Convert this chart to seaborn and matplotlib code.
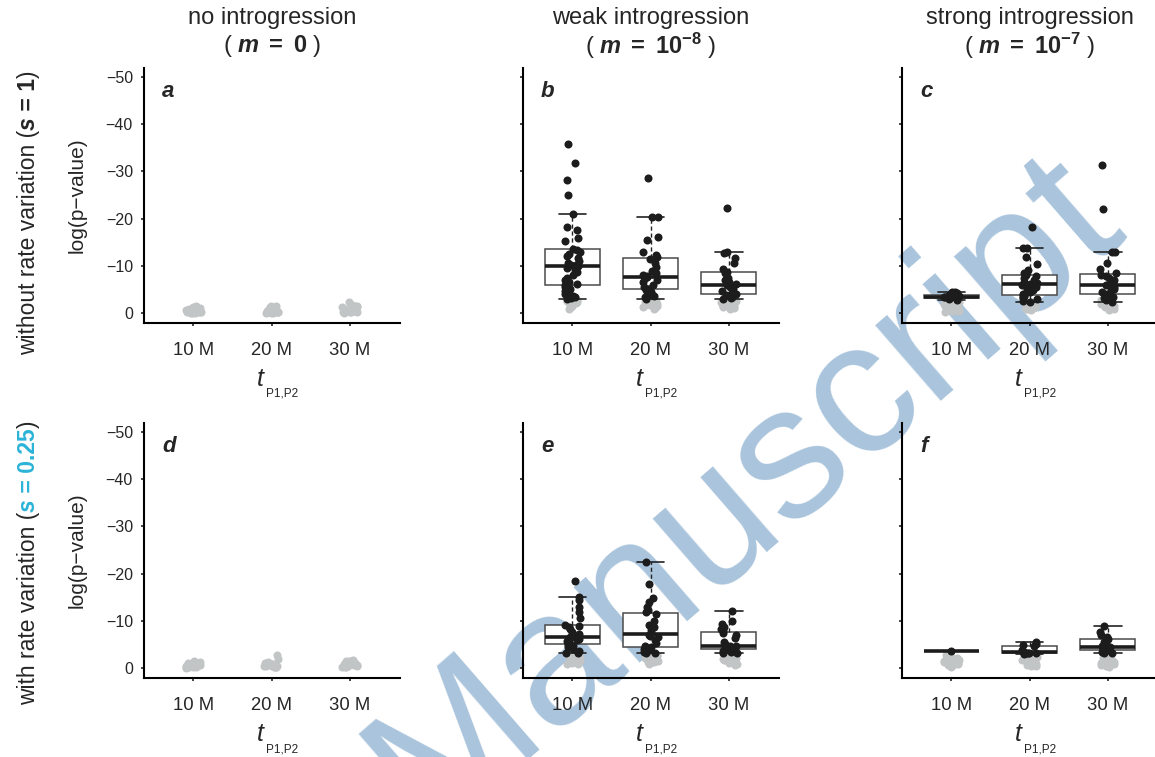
import numpy as np
import pandas as pd
import matplotlib
matplotlib.use('Agg')
import matplotlib.pyplot as plt
import seaborn as sns

np.random.seed(7)  # only for the horizontal jitter of the strips

TIMES = ['10 M', '20 M', '30 M']
COL_TITLES = ['no introgression', 'weak introgression', 'strong introgression']
COL_M = [r'( $\mathbfit{m}$ $\mathbf{=}$ $\mathbf{0}$ )',
         r'( $\mathbfit{m}$ $\mathbf{=}$ $\mathbf{10^{-8}}$ )',
         r'( $\mathbfit{m}$ $\mathbf{=}$ $\mathbf{10^{-7}}$ )']
LETTERS = ['a', 'b', 'c', 'd', 'e', 'f']
YTICKS = [0, -10, -20, -30, -40, -50]

# log(p-value) of significant runs (black points), one list per divergence time
SIG_B = [[-35.7, -31.8, -28.2, -25.0, -21.0, -18.2, -17.5, -16.0, -15.2, -13.6, -13.4, -13.0, -12.5,
          -12.0, -11.6, -11.0, -10.5, -10.2, -10.1, -10.0, -9.6, -9.2, -8.6, -8.0, -7.5, -7.0, -6.5,
          -6.2, -6.0, -5.6, -5.0, -4.6, -4.2, -4.0, -3.6, -3.4, -3.2, -3.0],
         [-28.7, -20.4, -20.3, -16.2, -15.5, -13.0, -12.4, -11.8, -11.4, -10.5, -9.8, -9.0, -8.5, -8.0,
          -7.8, -7.6, -7.4, -7.0, -6.5, -6.0, -5.6, -5.2, -5.0, -4.8, -4.5, -4.2, -3.9, -3.6, -3.3, -3.0],
         [-22.3, -12.9, -12.7, -11.6, -10.6, -9.4, -8.8, -8.4, -7.5, -7.0, -6.5, -6.2, -6.0, -5.8, -5.5,
          -5.0, -4.6, -4.3, -4.1, -4.0, -3.8, -3.5, -3.3, -3.1, -3.0]]
SIG_C = [[-4.5, -4.4, -4.2, -3.9, -3.8, -3.7, -3.5, -3.4, -3.3, -3.2, -3.1, -3.0, -2.9, -2.8],
         [-18.3, -13.8, -13.7, -11.8, -10.4, -9.2, -8.4, -8.0, -7.8, -7.4, -7.0, -6.6, -6.3, -6.2, -6.0,
          -5.6, -5.2, -4.8, -4.4, -4.0, -3.8, -3.7, -3.6, -3.4, -3.1, -2.9, -2.6, -2.4],
         [-31.4, -22.0, -13.0, -12.9, -10.6, -9.4, -8.4, -8.1, -7.9, -7.4, -7.0, -6.6, -6.2, -5.9, -5.8,
          -5.6, -5.2, -4.8, -4.4, -4.1, -4.0, -3.9, -3.5, -3.2, -3.0, -2.7, -2.4]]
SIG_E = [[-18.4, -15.0, -14.4, -13.0, -11.8, -10.6, -9.2, -8.9, -8.6, -8.2, -7.6, -7.2, -6.9, -6.5,
          -6.4, -6.2, -6.0, -5.8, -5.4, -5.1, -4.9, -4.7, -4.4, -4.0, -3.6, -3.3, -3.1],
         [-22.4, -17.9, -14.8, -14.0, -13.0, -12.2, -11.8, -11.5, -10.0, -9.2, -8.6, -8.0, -7.4, -7.1,
          -6.9, -6.5, -6.0, -5.4, -4.7, -4.4, -4.2, -4.0, -3.8, -3.5, -3.3, -3.1],
         [-12.0, -10.0, -9.4, -8.8, -8.2, -7.8, -7.5, -7.0, -6.4, -5.6, -5.0, -4.7, -4.6, -4.5, -4.4,
          -4.3, -4.2, -4.1, -4.0, -3.9, -3.6, -3.4, -3.2, -3.1]]
SIG_F = [[-3.7],
         [-5.5, -5.1, -4.9, -4.6, -3.9, -3.5, -3.4, -3.3, -3.2, -3.1, -3.1, -3.0],
         [-9.0, -7.6, -7.0, -6.6, -6.2, -5.6, -5.0, -4.6, -4.4, -4.2, -4.0, -3.9, -3.8, -3.6, -3.4,
          -3.2, -3.1]]

# log(p-value) of non-significant runs (grey points)
GREY_A = [[-0.2, -0.4, -0.1, -0.6, -0.3, -0.9, -1.2, -0.5, -0.2, -0.8, -1.5, -0.3, -0.1, -0.7, -0.4,
           -1.0, -0.2, -0.5, -0.3, -0.6, -0.1, -0.4, -0.8, -0.2],
          [-0.3, -0.1, -0.5, -0.8, -1.1, -0.2, -0.4, -1.4, -0.6, -0.3, -0.9, -0.2, -1.6, -0.5, -0.1,
           -0.7, -0.3, -0.4, -0.2, -0.6, -0.1, -0.5, -1.2, -0.3],
          [-0.2, -0.5, -1.0, -2.4, -1.8, -0.3, -0.8, -1.3, -0.1, -0.6, -1.1, -0.4, -1.6, -0.9, -0.2,
           -0.7, -0.3, -0.5, -1.2, -0.2, -0.8, -0.4, -1.5, -0.6]]
GREY_B = [[-0.9, -1.5, -2.2, -2.8, -2.5, -1.8, -2.0, -2.9, -2.6, -1.2, -2.3, -2.7, -2.4, -2.1, -2.8],
          [-1.0, -1.5, -2.4, -2.8, -2.0, -1.2, -2.6, -2.9, -1.8, -2.2, -0.8, -2.5, -2.7, -1.6, -2.3],
          [-1.2, -1.8, -2.6, -2.2, -1.0, -2.9, -2.4, -1.5, -2.7, -2.0, -0.9, -2.8, -1.7, -2.5, -1.3]]
GREY_C = [[-0.4, -0.8, -1.2, -1.6, -2.0, -2.4, -1.0, -0.6, -1.4, -1.8, -2.2, -0.9, -0.5, -1.5, -1.1,
           -0.7, -1.9, -0.3],
          [-1.0, -1.6, -2.2, -0.8, -1.9, -2.6, -1.3, -0.6, -2.0, -1.5, -2.4, -1.1, -1.7, -0.9],
          [-0.9, -1.5, -2.1, -2.6, -1.2, -1.8, -0.7, -2.3, -1.4, -2.8, -1.0, -1.6, -2.0]]
GREY_D = [[-0.3, -0.5, -0.2, -0.8, -1.2, -0.4, -0.6, -1.5, -0.1, -0.9, -0.3, -0.7, -0.5, -0.2, -1.0,
           -0.4, -0.6, -0.3],
          [-0.2, -0.6, -1.0, -2.7, -1.9, -0.4, -0.8, -1.3, -0.3, -0.5, -0.9, -0.2, -0.6, -1.1, -0.4,
           -0.7, -0.3, -0.5],
          [-0.3, -0.7, -1.1, -1.8, -0.5, -1.4, -0.2, -0.9, -1.6, -0.4, -0.6, -1.2, -0.8, -0.3, -1.0,
           -0.5, -1.5, -0.7]]
GREY_E = [[-0.8, -1.4, -2.0, -2.6, -1.1, -2.3, -1.7, -2.9, -0.9, -2.1, -1.5, -2.4, -1.2, -2.7],
          [-0.8, -1.3, -2.2, -2.7, -1.6, -2.0, -1.0, -2.5, -2.9, -1.8, -1.2, -2.3, -1.5, -2.1],
          [-0.7, -1.2, -1.8, -2.4, -2.8, -1.5, -2.1, -0.9, -2.6, -1.7, -1.0, -2.2, -1.4, -2.0]]
GREY_F = [[-0.3, -0.7, -1.2, -1.8, -2.4, -0.5, -1.0, -1.5, -2.1, -2.8, -0.9, -1.6, -0.4, -1.3, -0.6,
           -1.1, -2.0, -0.8],
          [-0.4, -0.9, -1.5, -2.0, -2.6, -1.1, -0.6, -1.8, -2.3, -2.9, -1.3, -0.8, -1.6, -0.5, -2.2],
          [-0.3, -0.8, -1.4, -2.0, -2.7, -1.1, -0.5, -1.7, -2.4, -0.9, -2.9, -1.5, -1.2, -0.6, -2.2]]

SIG = [None, SIG_B, SIG_C, None, SIG_E, SIG_F]
GREY = [GREY_A, GREY_B, GREY_C, GREY_D, GREY_E, GREY_F]

BLACK = '#1c1c1c'
GREY_COL = '#c2c5c5'
CYAN = '#2bb3d8'
WATERMARK = '#a9c4dc'
FONT = 'Liberation Sans'

W, H = 1155, 757

sns.set_style('ticks')
plt.rcParams.update({
    'font.family': [FONT, 'DejaVu Sans'],
    'mathtext.fontset': 'custom',
    'mathtext.rm': FONT,
    'mathtext.it': FONT + ':italic',
    'mathtext.bf': FONT + ':bold',
    'mathtext.bfit': FONT + ':bold:italic',
    'axes.linewidth': 1.5,
    'axes.edgecolor': 'black',
})


def to_frame(groups):
    rows = [(t, v) for t, vals in zip(TIMES, groups) for v in vals]
    return pd.DataFrame(rows, columns=['time', 'logp'])


fig = plt.figure(figsize=(W / 100, H / 100), dpi=100)
fig.patch.set_facecolor('white')

col_x = [144, 523, 902]
row_y = [68, 423]
ax_w, ax_h = 256, 255

axes = []
for r in range(2):
    for c in range(3):
        ax = fig.add_axes([col_x[c] / W, 1 - (row_y[r] + ax_h) / H, ax_w / W, ax_h / H])
        ax.set_facecolor('none')
        axes.append(ax)

for i, ax in enumerate(axes):
    grey = to_frame(GREY[i])
    sns.stripplot(data=grey, x='time', y='logp', order=TIMES, color=GREY_COL,
                  size=5.8, jitter=0.1, linewidth=0, zorder=1, ax=ax)
    if SIG[i] is not None:
        sig = to_frame(SIG[i])
        sns.boxplot(data=sig, x='time', y='logp', order=TIMES, width=0.7,
                    color='white', saturation=1, linecolor='#4a4a4a', linewidth=1.1,
                    showfliers=False,
                    whiskerprops=dict(color='#222222', linestyle=(0, (3, 2)), linewidth=1.0),
                    capprops=dict(color='#222222', linewidth=1.2),
                    medianprops=dict(color=BLACK, linewidth=2.6),
                    ax=ax)
        sns.stripplot(data=sig, x='time', y='logp', order=TIMES, color=BLACK,
                      size=5.8, jitter=0.1, linewidth=0, zorder=4, ax=ax)

    ax.set_xlim(-0.63, 2.64)
    ax.set_ylim(2.1, -51.9)
    ax.set_yticks(YTICKS)
    ax.set_xlabel('')
    ax.set_ylabel('')
    sns.despine(ax=ax)
    ax.tick_params(axis='x', length=2.5, width=1.2, pad=11, labelsize=13.3)
    ax.tick_params(axis='y', length=2.5, width=1.2, pad=5.5, labelsize=11.5)
    if i % 3 != 0:
        ax.tick_params(axis='y', labelleft=False)
    else:
        ax.set_ylabel('log(p\u2212value)', fontsize=15)
        ax.yaxis.set_label_coords(-0.223, 0.5)

    ax.text(0.07, 0.886, LETTERS[i], transform=ax.transAxes, fontsize=16,
            fontweight='bold', style='italic', ha='left', va='baseline')

    # x axis label: t with subscript P1,P2
    ax.annotate('t', xy=(0.5, 0), xycoords='axes fraction', xytext=(-8, -56),
                textcoords='offset pixels', ha='right', va='center',
                fontsize=18, style='italic')
    ax.annotate('P1,P2', xy=(0.5, 0), xycoords='axes fraction', xytext=(-6, -71),
                textcoords='offset pixels', ha='left', va='center', fontsize=8.5)

# column titles
for c in range(3):
    cx = (col_x[c] + ax_w / 2) / W
    fig.text(cx, 1 - 18 / H, COL_TITLES[c], ha='center', va='center', fontsize=17)
    fig.text(cx, 1 - 46 / H, COL_M[c], ha='center', va='center', fontsize=17)


# row labels, pieces chained upward
def row_label(y_start, parts):
    base_x = 35 / W
    prev = None
    for txt, kw in parts:
        if prev is None:
            prev = fig.text(base_x, 1 - y_start / H, txt, rotation=90,
                            rotation_mode='anchor', ha='left', va='baseline',
                            fontsize=16.5, **kw)
        else:
            prev = axes[0].annotate(txt, xy=(base_x, 1.0),
                                    xycoords=('figure fraction', prev),
                                    rotation=90, rotation_mode='anchor',
                                    ha='left', va='baseline', fontsize=16.5,
                                    annotation_clip=False, **kw)


bold_it = dict(fontweight='bold', style='italic')
row_label(355, [('without rate variation (', {}), ('s', bold_it),
                (' = 1', dict(fontweight='bold')), (')', {})])
row_label(705, [('with rate variation (', {}), ('s', dict(color=CYAN, **bold_it)),
                (' = 0.25', dict(fontweight='bold', color=CYAN)), (')', {})])

# watermark behind everything
fig.text(745 / W, 1 - 492 / H, 'Manuscript', rotation=41, rotation_mode='anchor',
         ha='center', va='center', fontsize=136, color=WATERMARK, zorder=-1)

fig.savefig('out.png', dpi=100)
